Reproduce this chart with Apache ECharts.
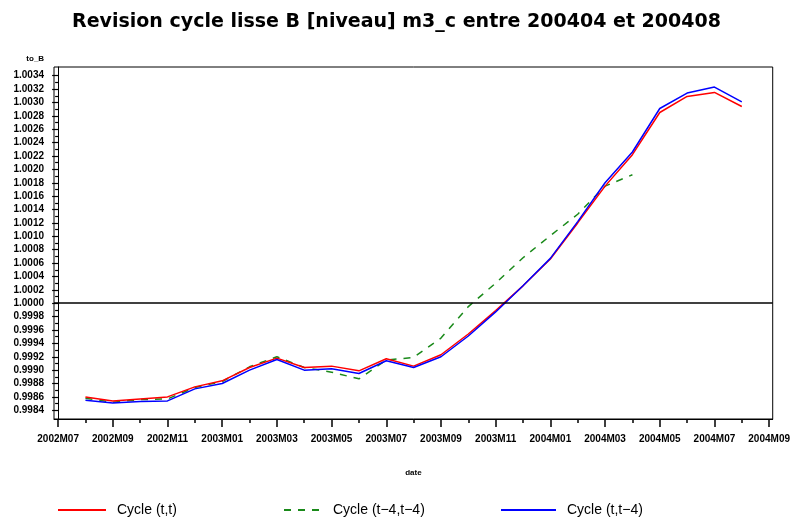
<!DOCTYPE html>
<html>
<head>
<meta charset="utf-8">
<script src="https://cdn.jsdelivr.net/npm/echarts@6/dist/echarts.min.js"></script>
<style>
  html, body { margin: 0; padding: 0; background: #fff; }
  #chart { width: 793px; height: 523px; }
</style>
</head>
<body>
<div id="chart"></div>
<script>
// Monthly observation dates
const MONTHS = ['2002M08','2002M09','2002M10','2002M11','2002M12',
                '2003M01','2003M02','2003M03','2003M04','2003M05','2003M06',
                '2003M07','2003M08','2003M09','2003M10','2003M11','2003M12',
                '2004M01','2004M02','2004M03','2004M04','2004M05','2004M06',
                '2004M07','2004M08'];

// Cycle (t,t)
const CYCLE_TT = [0.99860, 0.99854, 0.99857, 0.99860, 0.99875, 0.99884, 0.99904,
                  0.99918, 0.99904, 0.99906, 0.99899, 0.99917, 0.99906, 0.99923,
                  0.99954, 0.99989, 1.00026, 1.00066, 1.00120, 1.00175, 1.00222,
                  1.00285, 1.00309, 1.00315, 1.00294];

// Cycle (t-4,t-4): stops at 2004M04
const CYCLE_T4T4 = [0.99858, 0.99852, 0.99856, 0.99857, 0.99874, 0.99883, 0.99905,
                    0.99920, 0.99904, 0.99897, 0.99887, 0.99915, 0.99919, 0.99948,
                    0.99995, 1.00030, 1.00068, 1.00101, 1.00133, 1.00175, 1.00192];

// Cycle (t,t-4)
const CYCLE_TT4 = [0.99855, 0.99851, 0.99853, 0.99854, 0.99872, 0.99880, 0.99900,
                   0.99916, 0.99900, 0.99902, 0.99895, 0.99914, 0.99904, 0.99920,
                   0.99951, 0.99987, 1.00026, 1.00067, 1.00122, 1.00180, 1.00226,
                   1.00291, 1.00314, 1.00323, 1.00301];

// Labelled ticks
const Y_TICKS = [0.9984, 0.9986, 0.9988, 0.9990, 0.9992, 0.9994, 0.9996, 0.9998,
                 1.0000, 1.0002, 1.0004, 1.0006, 1.0008, 1.0010, 1.0012, 1.0014,
                 1.0016, 1.0018, 1.0020, 1.0022, 1.0024, 1.0026, 1.0028, 1.0030,
                 1.0032, 1.0034];
const Y_MINOR = [0.9985, 0.9987, 0.9989, 0.9991, 0.9993, 0.9995, 0.9997, 0.9999,
                 1.0001, 1.0003, 1.0005, 1.0007, 1.0009, 1.0011, 1.0013, 1.0015,
                 1.0017, 1.0019, 1.0021, 1.0023, 1.0025, 1.0027, 1.0029, 1.0031,
                 1.0033];
const X_TICKS = ['2002M07','2002M09','2002M11','2003M01','2003M03','2003M05',
                 '2003M07','2003M09','2003M11','2004M01','2004M03','2004M05',
                 '2004M07','2004M09'];

const NAMES = ['Cycle (t,t)', 'Cycle (t\u22124,t\u22124)', 'Cycle (t,t\u22124)'];

// Month label <-> month index counted from 2002M07
function monthIndex(s) {
  const y = parseInt(s.slice(0, 4), 10);
  const m = parseInt(s.slice(5), 10);
  return (y - 2002) * 12 + (m - 7);
}
function monthLabel(i) {
  const t = Math.round(i) + 6;
  const y = 2002 + Math.floor(t / 12);
  const m = (t % 12) + 1;
  return y + 'M' + (m < 10 ? '0' + m : m);
}
function pairs(values) {
  return values.map((v, i) => [monthIndex(MONTHS[i]), v]);
}

const X_MAJOR = X_TICKS.map(monthIndex);
const X_ALL = [];
for (let i = X_MAJOR[0]; i <= X_MAJOR[X_MAJOR.length - 1]; i++) X_ALL.push(i);

const X_MIN = -0.15, X_MAX = 26.13;
const Y_MIN = 0.99827, Y_MAX = 1.00353;
const FONT = '"Liberation Sans", Arial, sans-serif';

const chart = echarts.init(document.getElementById('chart'), null, { renderer: 'canvas' });

function legendFor(name, left, width) {
  return {
    top: 498,
    left: left,
    data: [name],
    itemWidth: width,
    itemHeight: 12,
    itemStyle: { opacity: 0 },
    textStyle: { fontFamily: FONT, fontSize: 14, color: '#000', padding: [0, 0, 0, 6] },
    selectedMode: false
  };
}

chart.setOption({
  animation: false,
  backgroundColor: '#fff',
  title: {
    text: 'Revision cycle lisse B [niveau] m3_c entre 200404 et 200408',
    left: 'center',
    top: 8,
    textStyle: { fontFamily: '"DejaVu Sans", sans-serif', fontSize: 19, fontWeight: 'bold', color: '#000' }
  },
  legend: [
    legendFor(NAMES[0], 52, 48),
    legendFor(NAMES[1], 278, 38),
    legendFor(NAMES[2], 495, 55)
  ],
  grid: {
    left: 54, right: 19, top: 67, bottom: 104,
    show: true, borderColor: '#000', borderWidth: 1, backgroundColor: 'transparent'
  },
  xAxis: [
    {
      type: 'value', min: X_MIN, max: X_MAX,
      name: 'date', nameLocation: 'middle', nameGap: 50,
      nameTextStyle: { fontFamily: FONT, fontSize: 8, fontWeight: 'bold', color: '#000' },
      axisLine: { show: true, lineStyle: { color: '#000', width: 1 } },
      axisTick: { show: true, customValues: X_MAJOR, length: 8, lineStyle: { color: '#000', width: 1.5 } },
      axisLabel: {
        customValues: X_MAJOR, margin: 15,
        fontFamily: FONT, fontSize: 10, fontWeight: 'bold', color: '#000',
        formatter: v => monthLabel(v)
      },
      splitLine: { show: false }
    },
    {
      type: 'value', min: X_MIN, max: X_MAX, position: 'bottom',
      axisLine: { show: false },
      axisTick: { show: true, customValues: X_ALL, length: 4, lineStyle: { color: '#000', width: 1.5 } },
      axisLabel: { show: false },
      splitLine: { show: false }
    }
  ],
  yAxis: [
    {
      type: 'value', min: Y_MIN, max: Y_MAX,
      name: 'to_B', nameLocation: 'end', nameGap: 4,
      nameTextStyle: { fontFamily: FONT, fontSize: 8, fontWeight: 'bold', color: '#000', align: 'right', padding: [0, 14, 0, 0] },
      axisLine: { show: true, lineStyle: { color: '#000', width: 1 } },
      axisTick: { show: true, customValues: Y_TICKS, length: 6, lineStyle: { color: '#000', width: 1.2 } },
      axisLabel: {
        customValues: Y_TICKS, margin: 10,
        fontFamily: FONT, fontSize: 10, fontWeight: 'bold', color: '#000',
        formatter: v => v.toFixed(4)
      },
      splitLine: { show: false }
    },
    {
      type: 'value', min: Y_MIN, max: Y_MAX, position: 'left',
      axisLine: { show: false },
      axisTick: { show: true, customValues: Y_MINOR, length: 3, lineStyle: { color: '#000', width: 1.2 } },
      axisLabel: { show: false },
      splitLine: { show: false }
    }
  ],
  series: [
    {
      name: NAMES[0], type: 'line', data: pairs(CYCLE_TT),
      symbol: 'none', color: '#ff0000',
      lineStyle: { color: '#ff0000', width: 1.5 },
      z: 3,
      markLine: {
        silent: true, symbol: 'none', label: { show: false },
        lineStyle: { color: '#000', width: 1.5, type: 'solid' },
        data: [{ yAxis: 1.0 }]
      }
    },
    {
      name: NAMES[1], type: 'line', data: pairs(CYCLE_T4T4),
      symbol: 'none', color: '#1a8a1a',
      lineStyle: { color: '#1a8a1a', width: 1.5, type: [7, 7] },
      z: 2
    },
    {
      name: NAMES[2], type: 'line', data: pairs(CYCLE_TT4),
      symbol: 'none', color: '#0000ff',
      lineStyle: { color: '#0000ff', width: 1.5 },
      z: 4
    }
  ]
});
</script>
</body>
</html>
